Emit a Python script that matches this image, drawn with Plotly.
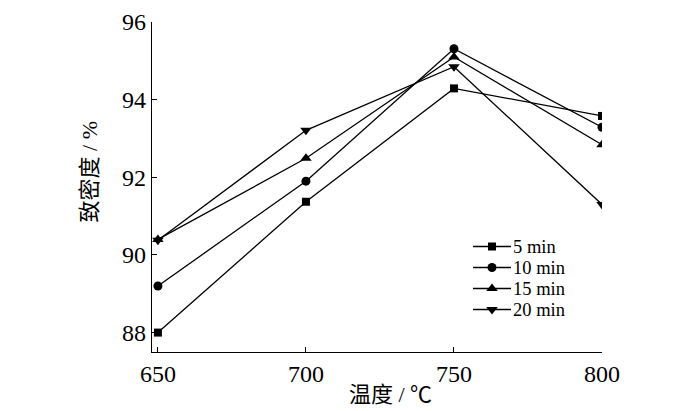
import plotly.graph_objects as go

# temperature (C) and density (%) for each holding time
temps = [650, 700, 750, 800]
names = ["5 min", "10 min", "15 min", "20 min"]
d_5 = [88.0, 91.37, 94.29, 93.58]
d_10 = [89.2, 91.9, 95.31, 93.29]
d_15 = [90.4, 92.49, 95.1, 92.84]
d_20 = [90.38, 93.21, 94.85, 91.3]
symbols = ["square", "circle", "triangle-up", "triangle-down"]
sizes = [8, 9, 10, 10]

series = [d_5, d_10, d_15, d_20]
font = "Liberation Serif, Times New Roman, Noto Sans CJK SC"

fig = go.Figure()
for nm, ys, sym, sz in zip(names, series, symbols, sizes):
    fig.add_trace(go.Scatter(x=temps, y=ys, name=nm, mode="lines+markers",
                             line=dict(color="black", width=1.3),
                             marker=dict(symbol=sym, size=sz, color="black"),
                             showlegend=False))

# hand drawn legend, one text block so the rows stay tight (pixel coords on overlay axis)
leg_gap = 21
leg_y = [278 + (i - 1.5) * leg_gap for i in range(4)]
for sym, sz, ly in zip(symbols, sizes, leg_y):
    fig.add_trace(go.Scatter(x=[473, 492, 511], y=[ly, ly, ly], xaxis="x2", yaxis="y2",
                             mode="lines", line=dict(color="black", width=1.3),
                             showlegend=False, hoverinfo="skip"))
    fig.add_trace(go.Scatter(x=[492], y=[ly], xaxis="x2", yaxis="y2", mode="markers",
                             marker=dict(symbol=sym, size=sz, color="black"),
                             showlegend=False, hoverinfo="skip"))
# line spacing follows the base font size, the spans carry the real text size
leg_text = "<br>".join('<span style="font-size:18.5px">%s</span>' % n for n in names)
fig.add_annotation(x=511, y=278, xref="x2", yref="y2", text=leg_text,
                   showarrow=False, xanchor="left", yanchor="middle", align="left",
                   font=dict(size=leg_gap / 1.3))

fig.add_annotation(x=0.531, y=-0.130, xref="paper", yref="paper", text="温度 / ℃",
                   showarrow=False, xanchor="center", yanchor="middle", font=dict(size=22))
fig.add_annotation(x=-0.138, y=0.547, xref="paper", yref="paper", text="致密度 / %",
                   showarrow=False, textangle=-90, xanchor="center", yanchor="middle",
                   font=dict(size=22))

# page body has an 8px margin, so the figure is made 8px smaller on the left/top
fig.update_layout(
    width=692, height=403,
    margin=dict(l=144, r=98, t=14, b=59, autoexpand=False),
    paper_bgcolor="white", plot_bgcolor="white",
    font=dict(family=font, size=24, color="black"),
    xaxis=dict(range=[648, 800], tickvals=temps, ticks="inside", ticklen=5,
               tickcolor="black", showline=True, linecolor="black", linewidth=1.3,
               showgrid=False, zeroline=False, ticklabeloverflow="allow",
               automargin=False),
    yaxis=dict(range=[87.5, 96], tickvals=[88, 90, 92, 94, 96], ticks="inside",
               ticklen=5, tickcolor="black", showline=True, linecolor="black",
               linewidth=1.3, showgrid=False, zeroline=False, ticklabeloverflow="allow",
               automargin=False),
    xaxis2=dict(overlaying="x", range=[152, 602], visible=False, fixedrange=True),
    yaxis2=dict(overlaying="y", range=[352, 22], visible=False, fixedrange=True),
)

fig.write_html("out.html")
